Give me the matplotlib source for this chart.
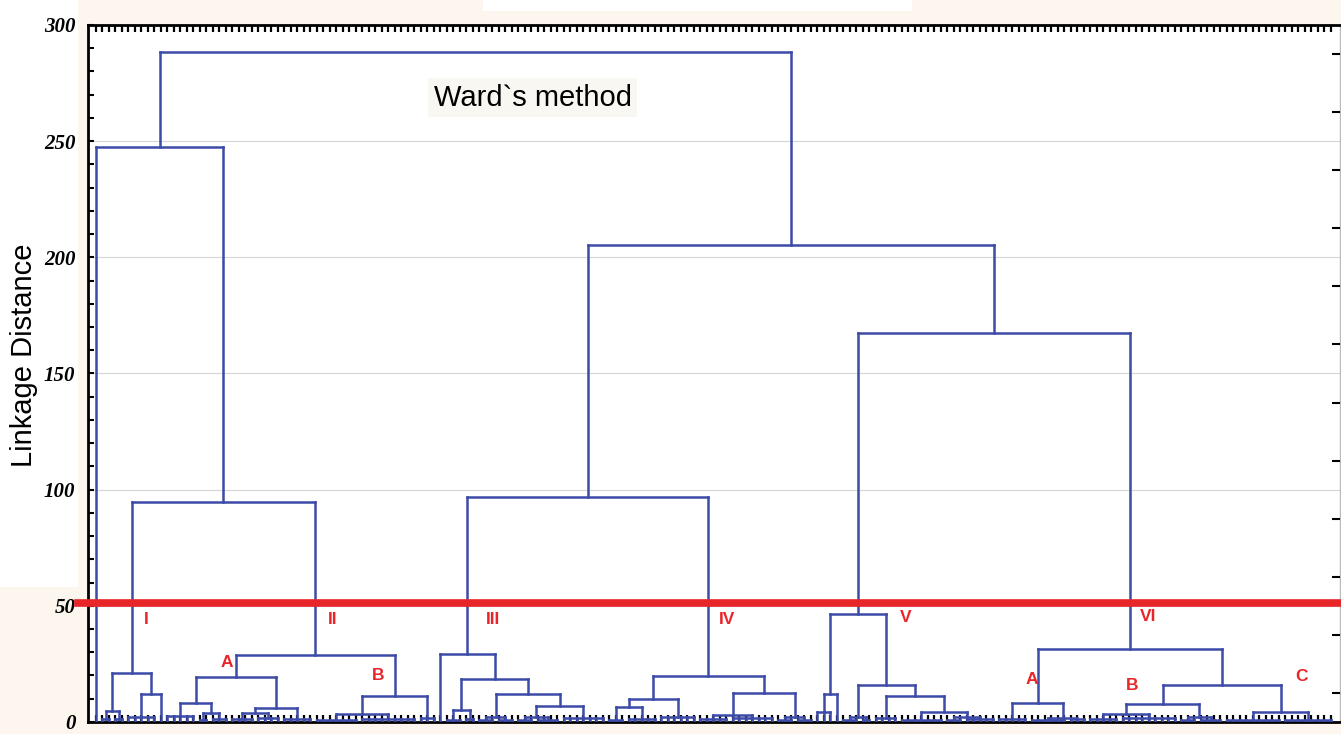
import numpy as np
import matplotlib
matplotlib.use("Agg")
import matplotlib.pyplot as plt
from matplotlib.collections import LineCollection
from matplotlib.patches import Rectangle
from matplotlib.ticker import MultipleLocator

LEAF = "leaf"


def grp(h, n):
    # n leaves joined in one flat bracket at height h
    return (h, [LEAF] * n)


# --- tree data: (linkage distance, [children]) ---
cluster_I = (21.2, [
    (4.7, [grp(1.2, 2), grp(1.2, 2)]),
    (12.0, [grp(2.0, 5), LEAF]),
])
cluster_II = (28.8, [
    (19.4, [
        (8.3, [grp(2.6, 5), (4.0, [grp(1.0, 2), grp(1.3, 3)])]),
        (6.0, [(4.0, [grp(1.2, 4), grp(1.5, 4)]), grp(1.3, 5)]),
    ]),
    (11.2, [
        (3.4, [grp(1.0, 7), grp(1.2, 9)]),
        grp(1.7, 3),
    ]),
])
cluster_III = (29.3, [
    LEAF,
    (18.5, [
        (5.2, [grp(1.0, 3), grp(1.2, 2)]),
        (12.0, [
            (2.0, [grp(0.8, 3), grp(1.0, 3)]),
            (7.0, [(2.0, [grp(1.0, 3), grp(0.8, 4)]), grp(1.8, 7)]),
        ]),
    ]),
])
cluster_IV = (19.8, [
    (9.9, [(6.4, [grp(0.8, 3), grp(1.2, 5)]), grp(2.0, 6)]),
    (12.5, [(3.0, [grp(1.2, 5), grp(1.5, 7)]), (2.0, [grp(1.0, 3), grp(1.0, 3)])]),
])
cluster_V = (46.5, [
    (12.0, [grp(4.3, 3), LEAF]),
    (16.0, [
        (2.0, [grp(0.8, 3), grp(1.0, 2)]),
        (11.2, [
            grp(1.5, 4),
            (4.3, [grp(1.0, 7), (2.0, [grp(1.0, 3), grp(1.3, 5)])]),
        ]),
    ]),
])
cluster_VI = (31.4, [
    (8.1, [grp(1.2, 5), (1.8, [grp(1.0, 6), grp(1.3, 3)])]),
    (16.0, [
        (7.7, [(3.4, [grp(1.2, 5), grp(1.5, 9)]), (2.0, [grp(1.0, 3), grp(1.0, 4)])]),
        (4.3, [grp(0.8, 9), grp(1.0, 8)]),
    ]),
])

left_branch = (247.5, [LEAF, (94.7, [cluster_I, cluster_II])])
mid_branch = (96.9, [cluster_III, cluster_IV])
right_branch = (205.3, [mid_branch, (167.5, [cluster_V, cluster_VI])])
root = (288.4, [left_branch, right_branch])

cut_level = 51.2

cluster_labels = ["I", "II", "III", "IV", "V", "VI", "A", "B", "A", "B", "C"]
label_x = [7.7, 36.5, 61.1, 97.1, 124.6, 161.8, 20.2, 43.4, 144.0, 159.4, 185.5]
label_y = [43.9, 43.9, 43.9, 43.9, 44.8, 45.2, 25.8, 20.2, 18.1, 15.9, 19.4]


def layout(node, segs, counter):
    if node == LEAF:
        x = counter[0]
        counter[0] += 1
        return x, 0.0
    h, kids = node
    pts = [layout(k, segs, counter) for k in kids]
    xs = [p[0] for p in pts]
    segs.append([(xs[0], h), (xs[-1], h)])
    for x, y in pts:
        segs.append([(x, y), (x, h)])
    return (xs[0] + xs[-1]) / 2, h


segs = []
counter = [0]
layout(root, segs, counter)
n_leaves = counter[0]

fig = plt.figure(figsize=(13.41, 7.34), dpi=100, facecolor="#fdf6ee")
fig.patches.append(Rectangle((0, 0.2), 0.058, 0.8, transform=fig.transFigure,
                             facecolor="white", edgecolor="none", zorder=-1))
fig.patches.append(Rectangle((0.36, 0.985), 0.32, 0.015, transform=fig.transFigure,
                             facecolor="white", edgecolor="none", zorder=-1))
ax = fig.add_axes([0.0656, 0.0164, 0.9337, 0.9496])
ax.set_facecolor("white")

ax.add_collection(LineCollection(segs, colors="#3c4ba8", linewidths=1.8,
                                 capstyle="projecting", zorder=3))
ax.set_xlim(-1.2, 191.4)
ax.set_ylim(0, 300)

ax.axhline(cut_level, xmin=-0.008, xmax=1, color="#e8262a", lw=5.5,
           clip_on=False, zorder=5)

for lab, x, y in zip(cluster_labels, label_x, label_y):
    ax.text(x, y, lab, color="#e8262a", fontsize=12.5, fontweight="bold",
            family="Liberation Sans", ha="center", va="center", zorder=6)

ax.text(67.2, 268.6, "Ward`s method", fontsize=21, family="Liberation Sans",
        ha="center", va="center", zorder=6,
        bbox=dict(facecolor="#f9f7f2", edgecolor="none", pad=4))

# axes styling
ax.set_xticks(np.arange(n_leaves))
ax.tick_params(axis="x", top=True, bottom=True, labelbottom=False,
               direction="in", length=5, width=1.6, color="black")
ax.yaxis.set_major_locator(MultipleLocator(50))
ax.yaxis.set_minor_locator(MultipleLocator(10))
ax.tick_params(axis="y", which="both", direction="in", length=4, width=1.5,
               right=False, pad=9)
for lbl in ax.get_yticklabels():
    lbl.set_family("Liberation Serif")
    lbl.set_fontweight("bold")
    lbl.set_fontstyle("italic")
    lbl.set_fontsize(15)
ax.yaxis.grid(True, which="major", color="#d6d6d6", lw=0.8)
ax.set_axisbelow(True)
for side in ["top", "left", "bottom"]:
    ax.spines[side].set_linewidth(2)
ax.spines["right"].set_color("#bbbbbb")
ax.spines["right"].set_linewidth(1)

ax2 = ax.twinx()
ax2.set_ylim(0, 300)
ax2.set_yticks(np.arange(12.5, 300, 25))
ax2.tick_params(axis="y", direction="in", length=6, width=1.5, labelright=False)
for side in ax2.spines:
    ax2.spines[side].set_visible(False)

fig.text(0.018, 0.516, "Linkage Distance", rotation=90, fontsize=21,
         family="Liberation Sans", ha="center", va="center")

fig.savefig("out.png", dpi=100, facecolor=fig.get_facecolor())
